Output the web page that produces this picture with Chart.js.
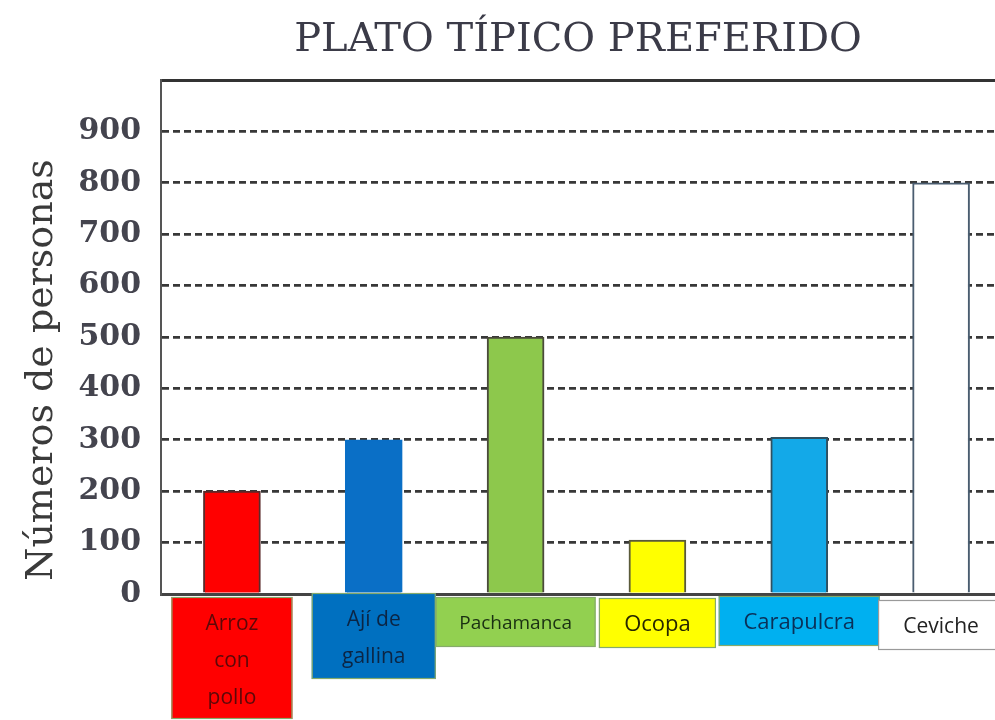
<!DOCTYPE html>
<html>
<head>
<meta charset="utf-8">
<script src="https://cdn.jsdelivr.net/npm/chart.js@4.4.0/dist/chart.umd.min.js"></script>
<style>
  html, body { margin: 0; padding: 0; background: #fff; }
  #wrap { width: 995px; height: 720px; overflow: hidden; position: relative; }
  #chart { display: block; }
</style>
</head>
<body>
<div id="wrap"><canvas id="chart" width="1012" height="720"></canvas></div>
<script>
// ─── Data ─────────────────────────────────────────
const chartTitle = 'PLATO TÍPICO PREFERIDO';
const yTitle = 'Números de personas';
const dishes = [['Arroz', 'con', 'pollo'], ['Ají de', 'gallina'], 'Pachamanca', 'Ocopa', 'Carapulcra', 'Ceviche'];
const personas = [200, 300, 500, 105, 305, 800];
const yMin = 0;
const yMax = 1000;
const yStep = 100;

// ─── Styles ───────────────────────────────────────
const barColors = ['#ff0000', '#0a6fc6', '#8dc84c', '#ffff00', '#13a9e8', '#ffffff'];
const barBorders = ['#5a2a2a', '#0a6fc6', '#4a4a3a', '#5a5a3a', '#2f5060', '#4a5d70'];
const boxColors = ['#ff0000', '#0070c0', '#92d050', '#ffff00', '#00b0f0', '#ffffff'];
const boxText = ['#5c0808', '#0b2544', '#1a3012', '#262600', '#0a3058', '#222222'];
const boxWidths = [121, 124, 160, 117, 161, 126];
const boxTops = [3, -1, 3, 4, 2, 6];
const boxFont = [21, 21, 19, 22, 22, 21];

// ─── Title + rotated axis title ───────────────────
const titlePlugin = {
  id: 'topTitle',
  afterDraw(chart) {
    const { ctx, chartArea } = chart;
    ctx.save();
    ctx.font = '40px "DejaVu Serif"';
    ctx.fillStyle = '#3b3b48';
    ctx.textAlign = 'center';
    ctx.textBaseline = 'alphabetic';
    ctx.fillText(chartTitle, (chartArea.left + 995) / 2, 51);

    // y axis title, a bit lower than the plot centre like the original
    ctx.translate(42, 370);
    ctx.rotate(-Math.PI / 2);
    ctx.font = '38px "DejaVu Serif"';
    ctx.fillStyle = '#3a3a3a';
    ctx.textBaseline = 'middle';
    ctx.fillText(yTitle, 0, 0);
    ctx.restore();
  }
};

// ─── Coloured label boxes under the axis ──────────
const boxPlugin = {
  id: 'labelBoxes',
  afterDraw(chart) {
    const { ctx, chartArea } = chart;
    const xs = chart.scales.x;
    chart.data.labels.forEach((lab, i) => {
      const lines = Array.isArray(lab) ? lab : [lab];
      const cx = xs.getPixelForValue(i);
      const w = boxWidths[i];
      const h = lines.length * 36 + 14;
      const top = chartArea.bottom + boxTops[i];
      ctx.save();
      ctx.fillStyle = boxColors[i];
      ctx.fillRect(cx - w / 2, top, w, h);
      ctx.lineWidth = 1.2;
      ctx.strokeStyle = i === 5 ? '#9a9a9a' : '#86aa6a';
      ctx.strokeRect(cx - w / 2 + 0.5, top + 0.5, w - 1, h - 1);
      ctx.fillStyle = boxText[i];
      ctx.font = boxFont[i] + 'px "Open Sans"';
      ctx.textAlign = 'center';
      ctx.textBaseline = 'middle';
      lines.forEach((t, k) => ctx.fillText(t, cx, top + 27 + k * 37));
      ctx.restore();
    });
  }
};

new Chart(document.getElementById('chart'), {
  type: 'bar',
  data: {
    labels: dishes,
    datasets: [{
      label: yTitle,
      data: personas,
      backgroundColor: barColors,
      borderColor: barBorders,
      borderWidth: 2,
      borderSkipped: 'bottom',
      barThickness: 57,
    }],
  },
  options: {
    responsive: false,
    animation: false,
    devicePixelRatio: 1,
    layout: { padding: { top: 80, bottom: 126, left: 0, right: 0 } },
    plugins: {
      legend: { display: false },
      tooltip: { enabled: false },
    },
    scales: {
      x: {
        grid: { display: false, drawTicks: false },
        ticks: { display: false },
        border: { display: true, color: '#444', width: 3 },
      },
      y: {
        min: yMin,
        max: yMax,
        afterFit(scale) { scale.width = 161; },
        ticks: {
          stepSize: yStep,
          padding: 20,
          color: '#44444e',
          font: { family: '"DejaVu Serif"', size: 30, weight: 'bold' },
          callback: v => (v === yMax ? '' : v),
        },
        grid: {
          drawTicks: false,
          color: ctx => (ctx.tick && ctx.tick.value === yMax ? '#333' : '#383838'),
          lineWidth: ctx => (ctx.tick && ctx.tick.value === yMax ? 3 : 2.8),
        },
        border: {
          display: true,
          color: '#555',
          width: 2,
          dash: ctx => (ctx.tick && ctx.tick.value > yMin && ctx.tick.value < yMax ? [7, 4] : []),
        },
      },
    },
  },
  plugins: [titlePlugin, boxPlugin],
});
</script>
</body>
</html>
